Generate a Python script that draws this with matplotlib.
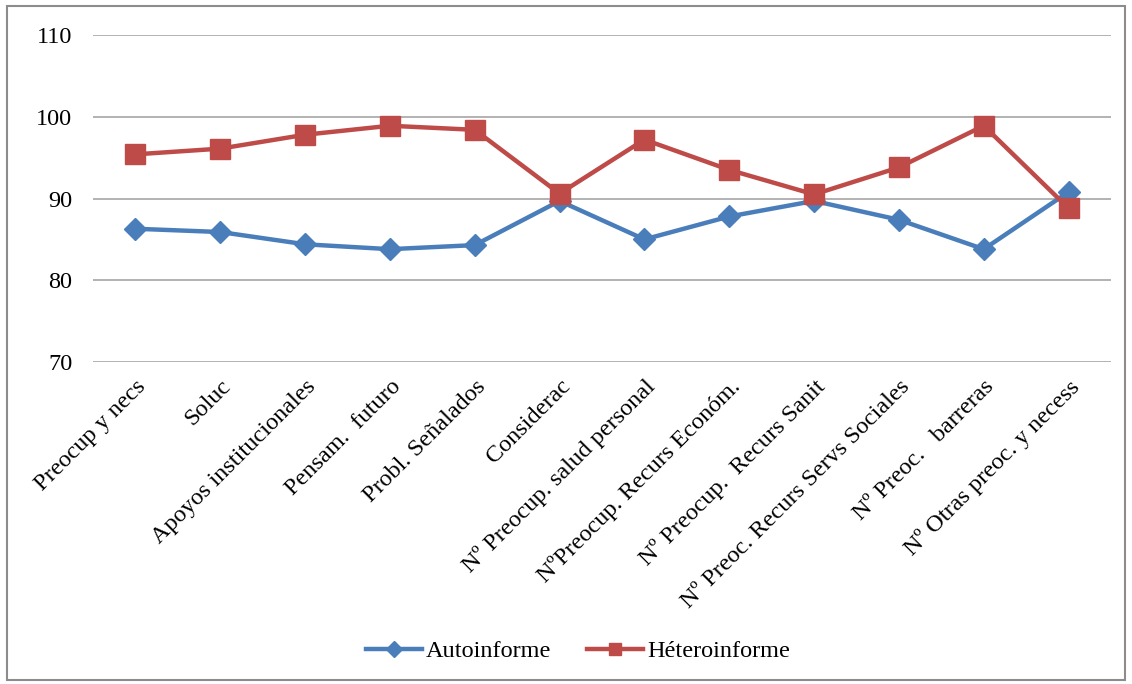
import numpy as np
import matplotlib.pyplot as plt
from matplotlib.patches import Rectangle
from matplotlib.lines import Line2D

# categories and values
categories = [
    "Preocup y necs", "Soluc", "Apoyos institucionales", "Pensam.  futuro",
    "Probl. Señalados", "Considerac", "Nº Preocup. salud personal",
    "NºPreocup. Recurs Económ.", "Nº Preocup.  Recurs Sanit",
    "Nº Preoc. Recurs Servs Sociales", "Nº Preoc.   barreras",
    "Nº Otras preoc. y necess",
]
autoinforme = [86.3, 85.9, 84.4, 83.8, 84.3, 89.7, 85.0, 87.8, 89.7, 87.4, 83.8, 90.8]
heteroinforme = [95.4, 96.1, 97.8, 98.9, 98.4, 90.6, 97.2, 93.5, 90.5, 93.8, 98.9, 88.8]
y_ticks = [70, 80, 90, 100, 110]

W, H = 1132, 684
plt.rcParams['font.family'] = ['Liberation Serif', 'DejaVu Serif']
fs = 17.5

fig = plt.figure(figsize=(W / 100, H / 100), dpi=100)
# plot area in pixel coords: x 93..1111, y 35..362
ax = fig.add_axes([93 / W, 1 - 362 / H, (1111 - 93) / W, (362 - 35) / H])

x = np.arange(len(categories))
blue = '#4A7EBB'
red = '#BE4B48'
ax.plot(x, autoinforme, color=blue, lw=3.2, marker='D', ms=11, mec=blue, mfc=blue, zorder=3)
ax.plot(x, heteroinforme, color=red, lw=3.2, marker='s', ms=14, mec=red, mfc=red, zorder=4)

ax.set_xlim(-0.5, len(categories) - 0.5)
ax.set_ylim(70, 110)
ax.set_yticks(y_ticks)
ax.set_yticklabels([str(v) for v in y_ticks], fontsize=fs)
ax.grid(axis='y', color='#A6A6A6', lw=1.2)
ax.set_axisbelow(True)
for s in ax.spines.values():
    s.set_visible(False)
ax.tick_params(axis='y', length=0, pad=15)
ax.tick_params(axis='x', length=0, pad=10)
ax.set_xticks(x)
ax.set_xticklabels(categories, rotation=45, ha='right', va='top',
                   rotation_mode='anchor', fontsize=fs)

# legend at bottom
handles = [
    Line2D([], [], color=blue, lw=3.2, marker='D', ms=8, mec=blue),
    Line2D([], [], color=red, lw=3.2, marker='s', ms=9, mec=red),
]
fig.legend(handles, ["Autoinforme", "Héteroinforme"], loc='center',
           bbox_to_anchor=(578 / W, 1 - 651 / H), ncol=2, frameon=False,
           fontsize=fs, handlelength=2.3, columnspacing=1.5, handletextpad=0.15)

# outer chart border
fig.patches.append(Rectangle((7 / W, 1 - 680 / H), (1125 - 7) / W, (680 - 6) / H,
                             transform=fig.transFigure, fill=False,
                             edgecolor='#8C8C8C', lw=1.5))

fig.savefig('out.png', dpi=100)
